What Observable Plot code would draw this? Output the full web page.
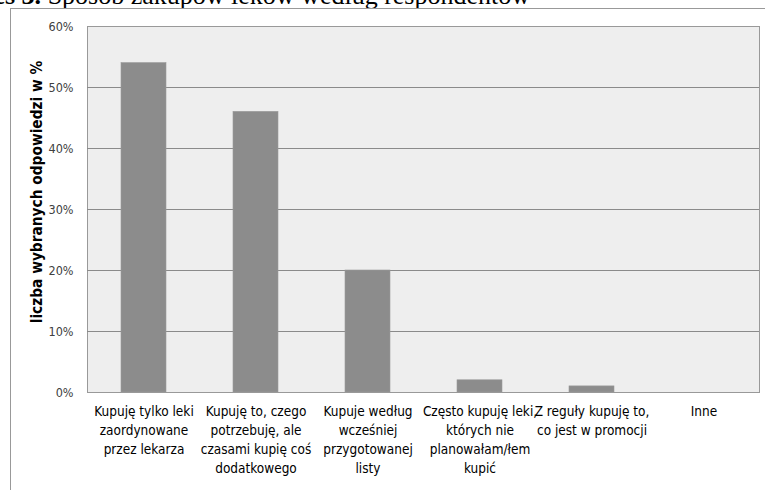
<!DOCTYPE html>
<html>
<head>
<meta charset="utf-8">
<script src="https://cdn.jsdelivr.net/npm/d3@7"></script>
<script src="https://cdn.jsdelivr.net/npm/@observablehq/plot@0.6"></script>
<style>
  html, body { margin: 0; padding: 0; background: #fff; width: 765px; height: 490px; overflow: hidden; position: relative; }
  #title { position: absolute; top: -19px; right: 235px; white-space: nowrap; font-family: "Liberation Serif", "DejaVu Serif", serif; font-size: 26px; color: #000; }
  #frame { position: absolute; left: 10px; top: 8px; width: 800px; height: 600px; border-left: 1px solid #999; border-top: 1px solid #999; }
  #chart { position: absolute; left: 0; top: 0; }
  #ylab { position: absolute; left: 37px; top: 192px; transform: translate(-50%, -50%) rotate(-90deg); white-space: nowrap; font-family: "DejaVu Sans Condensed", "Liberation Sans", sans-serif; font-weight: bold; font-size: 15.3px; color: #000; }
</style>
</head>
<body>
<div id="title"><b>Wykres 3.</b> Sposób zakupów leków według respondentów</div>
<div id="frame"></div>
<div id="chart"></div>
<div id="ylab">liczba wybranych odpowiedzi w %</div>
<script>
const categories = [
  "Kupuję tylko leki\nzaordynowane\nprzez lekarza",
  "Kupuję to, czego\npotrzebuję, ale\nczasami kupię coś\ndodatkowego",
  "Kupuje według\nwcześniej\nprzygotowanej\nlisty",
  "Często kupuję leki,\nktórych nie\nplanowałam/łem\nkupić",
  "Z reguły kupuję to,\nco jest w promocji",
  "Inne"
];
const values = [54, 46, 20, 2, 1, 0];
const yTicks = [0, 10, 20, 30, 40, 50, 60];

const data = categories.map((c, i) => ({category: c, value: values[i]}));

const chart = Plot.plot({
  width: 765,
  height: 490,
  marginLeft: 87,
  marginRight: 6,
  marginTop: 26,
  marginBottom: 98,
  style: {background: "transparent", fontFamily: "'DejaVu Sans Condensed', 'Liberation Sans', sans-serif", fontSize: "12px", color: "#000"},
  x: {domain: categories, paddingInner: 0.6, paddingOuter: 0.3, label: null},
  y: {domain: [0, 60], label: null},
  marks: [
    Plot.frame({fill: "#eeeeee", stroke: "#999"}),
    Plot.ruleY(yTicks.filter(d => d > 0 && d < 60), {stroke: "#8a8a8a", strokeWidth: 1}),
    Plot.barY(data, {x: "category", y: "value", fill: "#8c8c8c", stroke: "#999", strokeWidth: 0.6}),
    Plot.axisY({ticks: yTicks, tickFormat: d => d + "%", tickSize: 0, tickPadding: 14, fontSize: 12.5, fill: "#404040", label: null}),
    Plot.axisX({tickSize: 0, tickPadding: 10, lineHeight: 1.4, fontSize: 13.5, fill: "#000", label: null})
  ]
});
document.getElementById("chart").appendChild(chart);
</script>
</body>
</html>
